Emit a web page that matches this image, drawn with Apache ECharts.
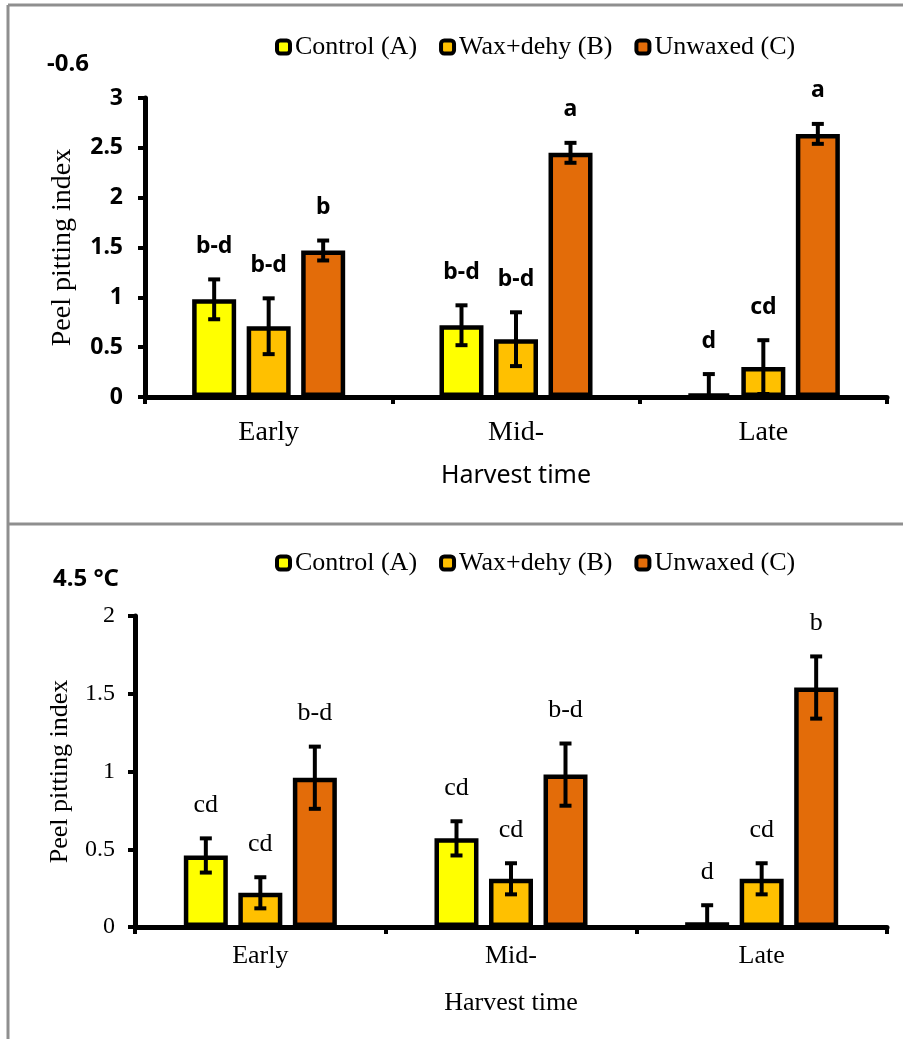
<!DOCTYPE html>
<html>
<head>
<meta charset="utf-8">
<script src="https://cdn.jsdelivr.net/npm/echarts@6/dist/echarts.min.js"></script>
<style>
  html, body { margin: 0; padding: 0; background: #fff; }
  #chart { width: 903px; height: 1039px; }
</style>
</head>
<body>
<div id="chart"></div>
<script>
// categories and legend names
const harvest = ["Early", "Mid-", "Late"];
const treatments = ["Control (A)", "Wax+dehy (B)", "Unwaxed (C)"];

// -0.6 panel
const ctrlCold = [0.98, 0.72, 0.03];
const waxCold = [0.71, 0.58, 0.30];
const unwaxCold = [1.47, 2.45, 2.64];
const ctrlColdErr = [0.20, 0.20, 0.20];
const waxColdErr = [0.28, 0.27, 0.27];
const unwaxColdErr = [0.10, 0.10, 0.10];
const ctrlColdLetters = ["b-d", "b-d", "d"];
const waxColdLetters = ["b-d", "b-d", "cd"];
const unwaxColdLetters = ["b", "a", "a"];

// 4.5 °C panel
const ctrlWarm = [0.46, 0.57, 0.03];
const waxWarm = [0.22, 0.31, 0.31];
const unwaxWarm = [0.96, 0.98, 1.54];
const ctrlWarmErr = [0.11, 0.11, 0.11];
const waxWarmErr = [0.10, 0.10, 0.10];
const unwaxWarmErr = [0.20, 0.20, 0.20];
const ctrlWarmLetters = ["cd", "cd", "d"];
const waxWarmLetters = ["cd", "cd", "cd"];
const unwaxWarmLetters = ["b-d", "b-d", "b"];

const colors = ["#FFFF00", "#FFC000", "#E36C09"];
const serif = "Liberation Serif";
const sans = "Noto Sans";
const barW = 44;
const barStep = 54.5; // barWidth * (1 + barGap)

let chart = echarts.init(document.getElementById("chart"));

function errorItems(vals, errs, letters) {
  let items = [];
  for (let s = 0; s < vals.length; s++) {
    for (let i = 0; i < vals[s].length; i++) {
      items.push({ value: [i, vals[s][i], errs[s][i], s], letter: letters[s][i] });
    }
  }
  return items;
}

function errorSeries(gridIdx, items, font) {
  return {
    type: "custom",
    xAxisIndex: gridIdx,
    yAxisIndex: gridIdx,
    z: 10,
    clip: false,
    silent: true,
    data: items.map(d => d.value),
    renderItem: function(params, api) {
      let cat = api.value(0), v = api.value(1), e = api.value(2), s = api.value(3);
      let x = api.coord([cat, 0])[0] + (s - 1) * barStep;
      let yHi = api.coord([cat, v + e])[1];
      let yLo = api.coord([cat, Math.max(0, v - e)])[1];
      let line = { stroke: "#000", lineWidth: 4 };
      return {
        type: "group",
        children: [
          { type: "line", shape: { x1: x, y1: yHi, x2: x, y2: yLo }, style: line },
          { type: "line", shape: { x1: x - 6, y1: yHi, x2: x + 6, y2: yHi }, style: line },
          { type: "line", shape: { x1: x - 6, y1: yLo, x2: x + 6, y2: yLo }, style: line },
          {
            type: "text",
            style: Object.assign({
              text: items[params.dataIndex].letter,
              x: x, y: yHi - 33,
              align: "center", verticalAlign: "middle",
              fill: "#000"
            }, font)
          }
        ]
      };
    }
  };
}

function barSeries(gridIdx, vals) {
  return vals.map((v, s) => ({
    name: treatments[s],
    type: "bar",
    xAxisIndex: gridIdx,
    yAxisIndex: gridIdx,
    barWidth: barW,
    barGap: ((barStep - barW) / barW * 100).toFixed(1) + "%",
    data: v,
    itemStyle: { color: colors[s], borderColor: "#000", borderWidth: 4.5 }
  }));
}

function xAxisFor(gridIdx, labelSize, labelMargin, nameFont, nameGap) {
  return {
    type: "category",
    gridIndex: gridIdx,
    data: harvest,
    name: "Harvest time",
    nameLocation: "middle",
    nameGap: nameGap,
    nameTextStyle: nameFont,
    axisLine: { lineStyle: { color: "#000", width: 5 } },
    axisTick: { show: true, length: 7, lineStyle: { color: "#000", width: 4 } },
    axisLabel: { color: "#000", fontFamily: serif, fontSize: labelSize, margin: labelMargin },
    splitLine: { show: false }
  };
}

function yAxisFor(gridIdx, max, labelFont, labelMargin, nameSize, nameGap) {
  return {
    type: "value",
    gridIndex: gridIdx,
    min: 0,
    max: max,
    interval: 0.5,
    name: "Peel pitting index",
    nameLocation: "middle",
    nameGap: nameGap,
    nameTextStyle: { color: "#000", fontFamily: serif, fontSize: nameSize },
    axisLine: { show: true, lineStyle: { color: "#000", width: 5 } },
    axisTick: { show: true, length: 7, lineStyle: { color: "#000", width: 4 } },
    axisLabel: Object.assign({ color: "#000", margin: labelMargin }, labelFont),
    splitLine: { show: false }
  };
}

const coldItems = errorItems(
  [ctrlCold, waxCold, unwaxCold],
  [ctrlColdErr, waxColdErr, unwaxColdErr],
  [ctrlColdLetters, waxColdLetters, unwaxColdLetters]
);
const warmItems = errorItems(
  [ctrlWarm, waxWarm, unwaxWarm],
  [ctrlWarmErr, waxWarmErr, unwaxWarmErr],
  [ctrlWarmLetters, waxWarmLetters, unwaxWarmLetters]
);

const legendBase = {
  data: treatments,
  left: 270,
  icon: "roundRect",
  itemWidth: 13,
  itemHeight: 13,
  itemGap: 22,
  itemStyle: { borderColor: "#000", borderWidth: 4 },
  textStyle: { color: "#000", fontFamily: serif, fontSize: 26 },
  selectedMode: false
};

let option = {
  animation: false,
  backgroundColor: "#fff",
  title: [
    { text: "-0.6", left: 47, top: 52, padding: 0,
      textStyle: { fontFamily: sans, fontWeight: "bold", fontSize: 24, color: "#000" } },
    { text: "4.5 °C", left: 53, top: 567, padding: 0,
      textStyle: { fontFamily: sans, fontWeight: "bold", fontSize: 24, color: "#000" } }
  ],
  legend: [
    Object.assign({ top: 29 }, legendBase),
    Object.assign({ top: 545 }, legendBase)
  ],
  graphic: [
    { type: "line", shape: { x1: 8, y1: 5, x2: 903, y2: 5 }, style: { stroke: "#8f8f8f", lineWidth: 3 } },
    { type: "line", shape: { x1: 8, y1: 5, x2: 8, y2: 1039 }, style: { stroke: "#8f8f8f", lineWidth: 3 } },
    { type: "line", shape: { x1: 8, y1: 524, x2: 903, y2: 524 }, style: { stroke: "#8f8f8f", lineWidth: 3 } }
  ],
  grid: [
    { left: 145, top: 98, width: 742, height: 299 },
    { left: 135, top: 616, width: 752, height: 311 }
  ],
  xAxis: [
    xAxisFor(0, 28, 22, { color: "#000", fontFamily: sans, fontSize: 25 }, 66),
    xAxisFor(1, 26, 16, { color: "#000", fontFamily: serif, fontSize: 26 }, 63)
  ],
  yAxis: [
    yAxisFor(0, 3, { fontFamily: sans, fontWeight: "bold", fontSize: 23 }, 22, 28, 68),
    yAxisFor(1, 2, { fontFamily: serif, fontSize: 24 }, 20, 26, 62)
  ],
  series: [
    ...barSeries(0, [ctrlCold, waxCold, unwaxCold]),
    errorSeries(0, coldItems, { fontFamily: sans, fontWeight: "bold", fontSize: 23 }),
    ...barSeries(1, [ctrlWarm, waxWarm, unwaxWarm]),
    errorSeries(1, warmItems, { fontFamily: serif, fontSize: 26 })
  ]
};

chart.setOption(option);
window.addEventListener("resize", () => {
  chart.resize();
});
</script>
</body>
</html>
